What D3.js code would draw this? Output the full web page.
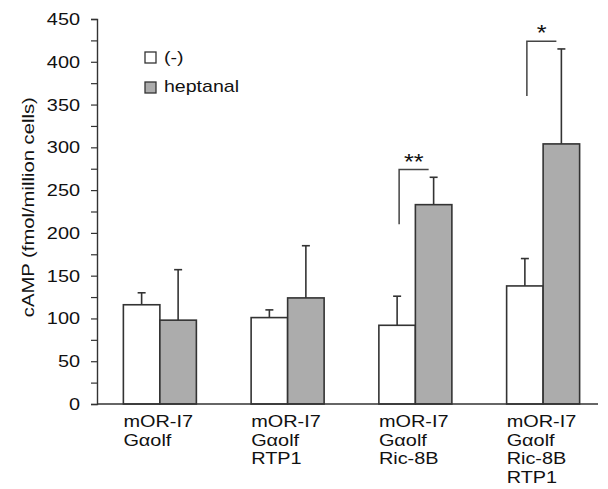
<!DOCTYPE html>
<html>
<head>
<meta charset="utf-8">
<script src="https://cdn.jsdelivr.net/npm/d3@7"></script>
<style>
body { margin: 0; background: #fff; }
text { font-family: "Liberation Sans", Arial, sans-serif; fill: #111; }
</style>
</head>
<body>
<svg id="chart" width="608" height="489"></svg>
<script>
// data
var groups = [
	["mOR-I7", "G\u03b1olf"],
	["mOR-I7", "G\u03b1olf", "RTP1"],
	["mOR-I7", "G\u03b1olf", "Ric-8B"],
	["mOR-I7", "G\u03b1olf", "Ric-8B", "RTP1"]
];
var seriesNames = ["(-)", "heptanal"];
var controlMean = [116, 101, 92, 138];
var controlErr = [14, 9, 34, 32];
var heptanalMean = [98, 124, 233, 304];
var heptanalErr = [59, 61, 32, 111];
var yTicks = [0, 50, 100, 150, 200, 250, 300, 350, 400, 450];
var yMinorTicks = [25, 75, 125, 175, 225, 275, 325, 375, 425];
// brackets: group, lower value, upper value, mark
var brackets = [
	{g: 2, lo: 210, hi: 274, mark: "**"},
	{g: 3, lo: 360, hi: 424, mark: "*"}
];

var svg = d3.select("#chart");
var colors = ["#ffffff", "#acacac"];
var axisX = 97, axisY = 404;

var y = d3.scaleLinear().domain([0, 450]).range([404, 19]);
var x = d3.scaleBand().domain(d3.range(groups.length)).range([96, 607]);
var bw = 36.5;

// the source font is wider than Arial, stretch text along its direction
function stretch(sel, k) {
	sel.each(function() {
		var len = this.getComputedTextLength();
		d3.select(this).attr("textLength", len * k).attr("lengthAdjust", "spacingAndGlyphs");
	});
}

var data = [];
for (var i = 0; i < groups.length; i++) {
	data.push({g: i, s: 0, v: controlMean[i], e: controlErr[i]});
	data.push({g: i, s: 1, v: heptanalMean[i], e: heptanalErr[i]});
}
function barX(d) {
	return x(d.g) + x.bandwidth() / 2 - bw + d.s * bw;
}

// error bars (up only)
var eb = svg.append("g").attr("stroke", "#333").attr("stroke-width", 1.6);
data.forEach(function(d) {
	var cx = barX(d) + bw / 2;
	eb.append("line").attr("x1", cx).attr("x2", cx)
		.attr("y1", y(d.v)).attr("y2", y(d.v + d.e));
	eb.append("line").attr("x1", cx - 4).attr("x2", cx + 4)
		.attr("y1", y(d.v + d.e)).attr("y2", y(d.v + d.e));
});

// bars
svg.selectAll(".bar")
	.data(data)
	.enter().append("rect")
	.attr("class", "bar")
	.attr("x", barX)
	.attr("width", bw)
	.attr("y", function(d) { return y(d.v); })
	.attr("height", function(d) { return y(0) - y(d.v); })
	.attr("fill", function(d) { return colors[d.s]; })
	.attr("stroke", "#333")
	.attr("stroke-width", 1.6);

// y axis
var ax = svg.append("g")
	.attr("transform", "translate(" + axisX + ",0)")
	.call(d3.axisLeft(y).tickValues(yTicks).tickSize(6).tickPadding(11));
ax.select(".domain").attr("stroke", "#333").attr("stroke-width", 1.4);
ax.selectAll(".tick line").attr("stroke", "#333").attr("stroke-width", 1.2);
ax.selectAll(".tick text").style("font-size", "17px").attr("fill", "#111")
	.style("font-family", "Liberation Sans, Arial, sans-serif");
stretch(ax.selectAll(".tick text"), 1.17);
var mn = svg.append("g")
	.attr("transform", "translate(" + axisX + ",0)")
	.call(d3.axisLeft(y).tickValues(yMinorTicks).tickSize(6).tickFormat(""));
mn.select(".domain").remove();
mn.selectAll(".tick line").attr("stroke", "#333").attr("stroke-width", 1.2);

// x axis line
svg.append("line")
	.attr("x1", axisX).attr("x2", 598)
	.attr("y1", axisY).attr("y2", axisY)
	.attr("stroke", "#333").attr("stroke-width", 1.4);

// y label
var yl = svg.append("text")
	.attr("transform", "translate(34," + y(230) + ") rotate(-90)")
	.attr("text-anchor", "middle")
	.style("font-size", "17px")
	.text("cAMP (fmol/million cells)");
stretch(yl, 1.19);

// x labels
groups.forEach(function(lines, i) {
	lines.forEach(function(l, j) {
		var t = svg.append("text")
			.attr("x", x(i) + x.bandwidth() / 2 - bw)
			.attr("y", 427 + j * 18.7)
			.style("font-size", "17px")
			.text(l);
		stretch(t, 1.17);
	});
});

// legend
seriesNames.forEach(function(n, i) {
	svg.append("rect")
		.attr("x", 145).attr("y", 52 + i * 30)
		.attr("width", 11).attr("height", 11)
		.attr("fill", colors[i]).attr("stroke", "#333").attr("stroke-width", 1.3);
	var t = svg.append("text")
		.attr("x", 164).attr("y", 63 + i * 29)
		.style("font-size", "17px")
		.text(n);
	stretch(t, 1.15);
});

// significance brackets
brackets.forEach(function(b) {
	var c = x(b.g) + x.bandwidth() / 2;
	var x1 = c - bw / 2 + 2, x2 = c + bw / 2 - 5;
	svg.append("path")
		.attr("d", "M" + x1 + "," + y(b.lo) + "V" + y(b.hi) + "H" + x2)
		.attr("fill", "none").attr("stroke", "#444").attr("stroke-width", 1.5);
	var t = svg.append("text")
		.attr("x", (x1 + x2) / 2).attr("y", y(b.hi) - 1)
		.attr("text-anchor", "middle")
		.style("font-size", "22px")
		.text(b.mark);
	stretch(t, 1.15);
});
</script>
</body>
</html>
